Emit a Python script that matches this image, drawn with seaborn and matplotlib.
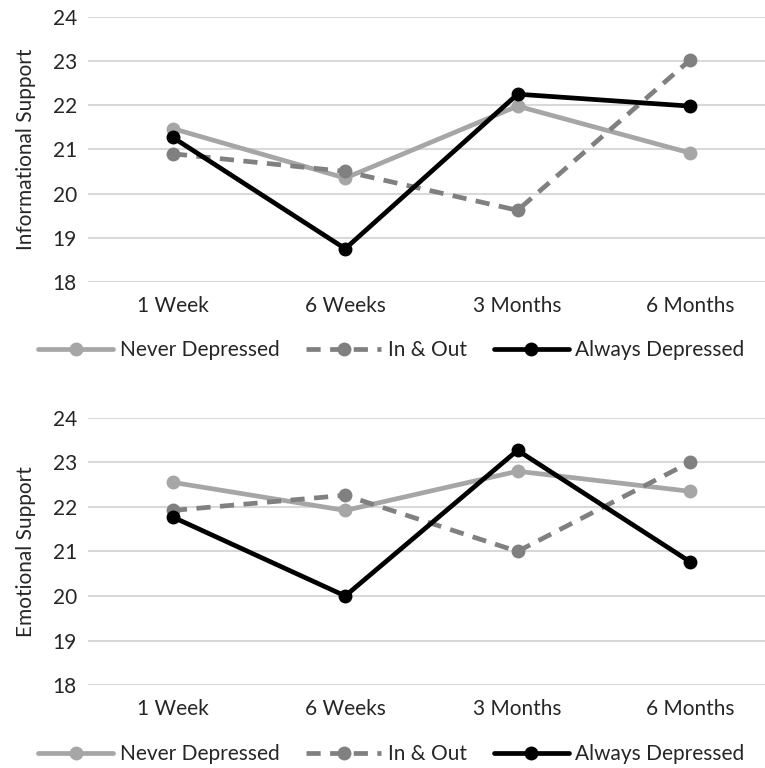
import matplotlib
matplotlib.use("Agg")
import matplotlib.pyplot as plt
import seaborn as sns
import pandas as pd

timepoints = ["1 Week", "6 Weeks", "3 Months", "6 Months"]
groups = ["Never Depressed", "In & Out", "Always Depressed"]

# Informational support (top panel)
info_never = [21.47, 20.35, 21.98, 20.92]
info_inout = [20.9, 20.5, 19.62, 23.02]
info_always = [21.27, 18.75, 22.25, 21.98]

# Emotional support (bottom panel)
emo_never = [22.55, 21.92, 22.8, 22.35]
emo_inout = [21.92, 22.26, 21.0, 23.0]
emo_always = [21.77, 20.0, 23.27, 20.77]

y_ticks = [18, 19, 20, 21, 22, 23, 24]

palette = {"Never Depressed": "#a6a6a6", "In & Out": "#808080", "Always Depressed": "#000000"}
dashes = {"Never Depressed": "", "In & Out": (3, 2), "Always Depressed": ""}


def to_long(never, inout, always):
    rows = []
    for grp, vals in zip(groups, [never, inout, always]):
        for t, v in zip(timepoints, vals):
            rows.append({"time": t, "score": v, "group": grp})
    return pd.DataFrame(rows)


sns.set_theme(style="white")
plt.rcParams["font.family"] = ["Lato", "DejaVu Sans"]

fig = plt.figure(figsize=(7.65, 7.68), dpi=100)
ax_top = fig.add_axes([0.115, 0.633, 0.885, 0.345])
ax_bot = fig.add_axes([0.115, 0.108, 0.885, 0.348])

panels = [
    (ax_top, to_long(info_never, info_inout, info_always), "Informational Support"),
    (ax_bot, to_long(emo_never, emo_inout, emo_always), "Emotional Support"),
]

for ax, df, label in panels:
    sns.lineplot(
        data=df, x="time", y="score", hue="group", style="group",
        hue_order=groups, style_order=groups,
        palette=palette, dashes=dashes, markers={g: "o" for g in groups},
        linewidth=3.4, markersize=10, markeredgewidth=0, ax=ax, sort=False,
    )
    ax.set_xlim(-0.493, 3.436)
    ax.set_ylim(18, 24)
    ax.set_yticks(y_ticks)
    ax.set_yticklabels([str(t) for t in y_ticks])
    ax.grid(axis="y", color="#d9d9d9", linewidth=1.5)
    ax.set_axisbelow(True)
    for s in ax.spines.values():
        s.set_visible(False)
    ax.tick_params(axis="both", length=0, labelsize=15, colors="#262626", pad=8)
    ax.tick_params(axis="x", pad=10)
    ax.set_xlabel("")
    ax.set_ylabel(label, fontsize=15, color="#262626", labelpad=12)
    handles, labels = ax.get_legend_handles_labels()
    ax.legend(
        handles, labels, loc="upper center", bbox_to_anchor=(0.448, -0.15),
        ncol=3, frameon=False, fontsize=15, handlelength=3.6,
        columnspacing=1.3, handletextpad=0.3, labelcolor="#262626",
    )

fig.savefig("out.png", dpi=100)
